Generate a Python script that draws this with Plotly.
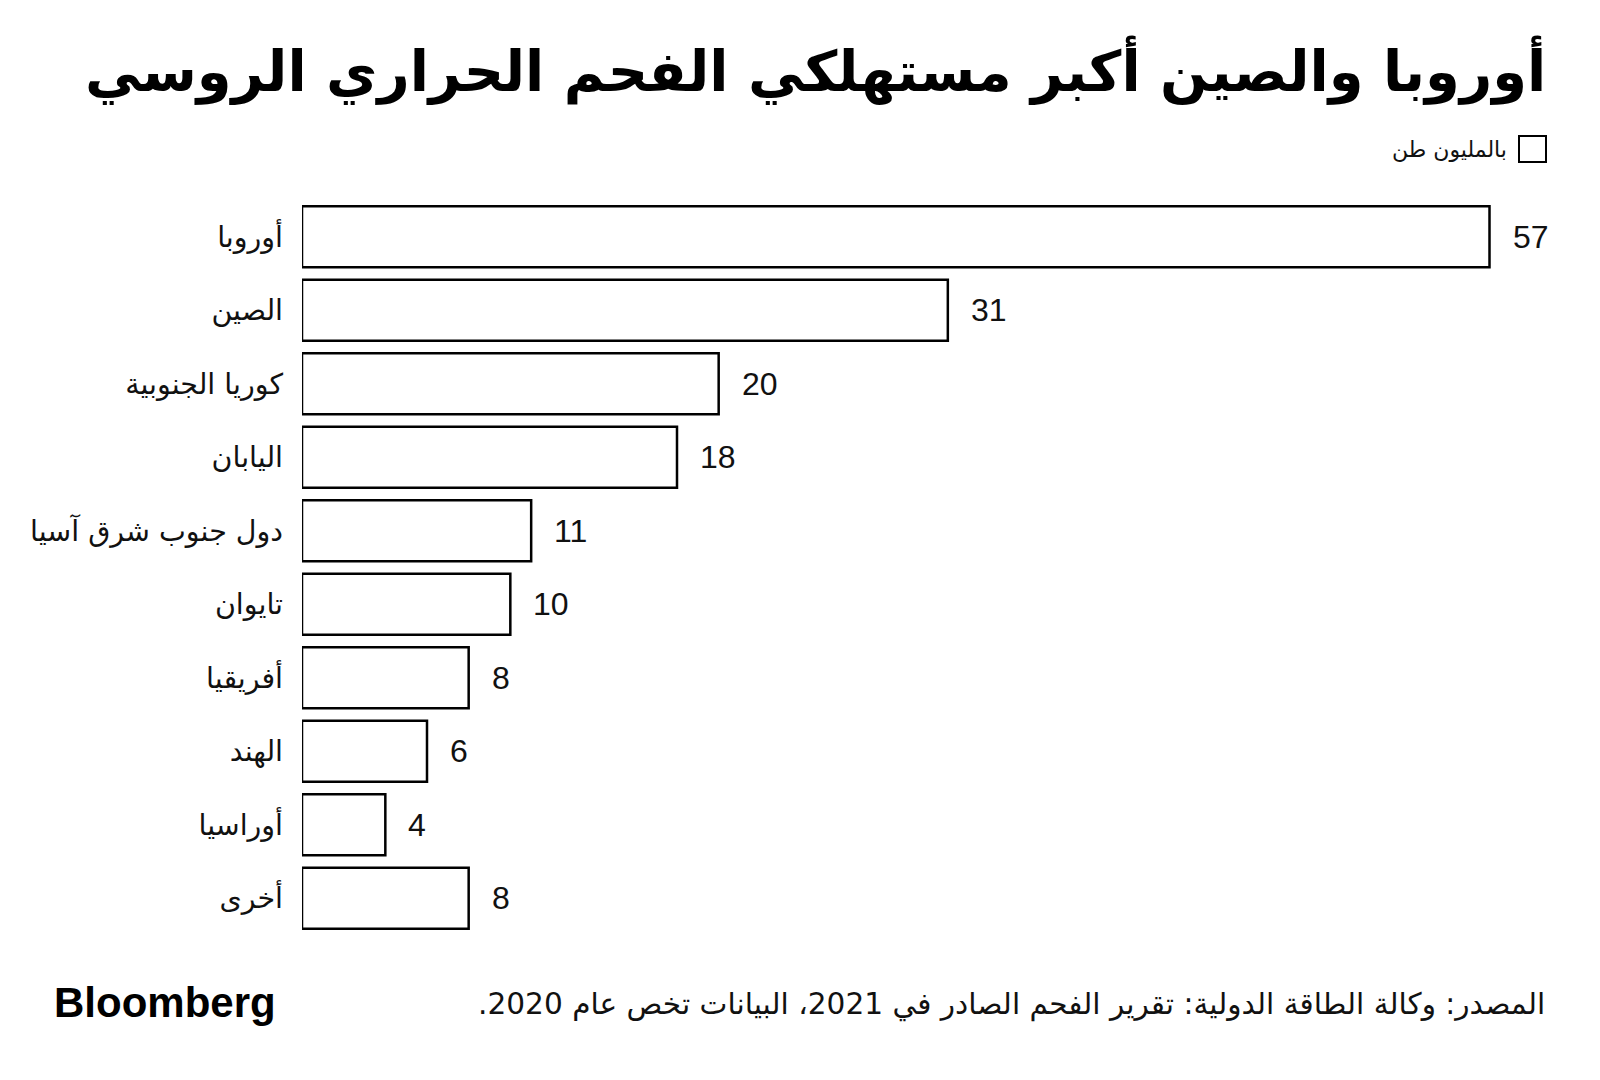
import plotly.graph_objects as go

categories = ["أوروبا", "الصين", "كوريا الجنوبية", "اليابان", "دول جنوب شرق آسيا",
              "تايوان", "أفريقيا", "الهند", "أوراسيا", "أخرى"]
values = [57, 31, 20, 18, 11, 10, 8, 6, 4, 8]

title_text = "أوروبا والصين أكبر مستهلكي الفحم الحراري الروسي"
legend_text = "بالمليون طن"
source_text = "المصدر: وكالة الطاقة الدولية: تقرير الفحم الصادر في 2021، البيانات تخص عام 2020."
brand_text = "Bloomberg"

AR_FONT = "DejaVu Sans"
RLM = "\u200f"

W, H = 1600, 1080
L, R, T, B = 302, 48, 200, 145
pw, ph = W - L - R, H - T - B
def paperx(x): return (x - L) / pw
def papery(y): return (H - B - y) / ph

fig = go.Figure()
fig.add_trace(go.Bar(
    x=values, y=categories, orientation="h",
    marker=dict(color="white", line=dict(color="black", width=2.5)),
    width=0.83, showlegend=False, hoverinfo="skip",
))

for c, v in zip(categories, values):
    fig.add_annotation(x=v, y=c, xref="x", yref="y", text=str(v), showarrow=False,
                       xanchor="left", yanchor="middle", xshift=21,
                       font=dict(family="Liberation Sans, Arial", size=32, color="#111"))

fig.add_annotation(x=paperx(1548), y=papery(70), xref="paper", yref="paper",
                   text="<b>" + title_text + "</b>", showarrow=False,
                   xanchor="right", yanchor="middle",
                   font=dict(family=AR_FONT, size=56, color="black"))

# legend: square box + text
fig.add_shape(type="rect", xref="paper", yref="paper",
              x0=paperx(1519), x1=paperx(1546), y0=papery(136), y1=papery(162),
              line=dict(color="black", width=2), fillcolor="white")
fig.add_annotation(x=paperx(1509), y=papery(149), xref="paper", yref="paper",
                   text=legend_text, showarrow=False, xanchor="right", yanchor="middle",
                   font=dict(family=AR_FONT, size=22, color="#111"))

# footer
fig.add_annotation(x=paperx(1547), y=papery(1004), xref="paper", yref="paper",
                   text=RLM + source_text + RLM, showarrow=False, xanchor="right", yanchor="middle",
                   font=dict(family=AR_FONT, size=29.6, color="#111"))
fig.add_annotation(x=paperx(52), y=papery(1002), xref="paper", yref="paper",
                   text="<b>" + brand_text + "</b>", showarrow=False, xanchor="left", yanchor="middle",
                   font=dict(family="Liberation Sans, Arial", size=42, color="black"))

fig.update_layout(
    width=W, height=H,
    margin=dict(l=L, r=R, t=T, b=B, pad=0),
    paper_bgcolor="white", plot_bgcolor="white",
    xaxis=dict(range=[0, 60], visible=False, fixedrange=True),
    yaxis=dict(autorange="reversed", showgrid=False, zeroline=False, showline=False,
               ticks="", ticklabelstandoff=18,
               tickfont=dict(family=AR_FONT, size=28.5, color="#111")),
)

fig.write_html("out.html")
